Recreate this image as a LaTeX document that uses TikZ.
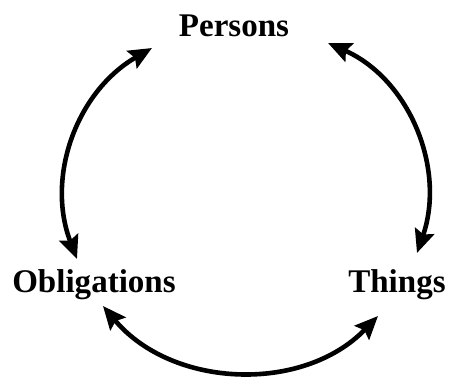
\documentclass[tikz,border=0pt]{standalone}
\usepackage{fontspec}
\setmainfont{Liberation Serif}
\usetikzlibrary{arrows.meta}

\tikzset{
  label/.style={font=\fontsize{23.5}{26}\selectfont\bfseries, anchor=base, inner sep=0pt},
  arr/.style={line width=0.115cm, {Stealth[length=0.58cm,width=0.5cm,inset=0.09cm]}-{Stealth[length=0.58cm,width=0.5cm,inset=0.09cm]}}
}

\begin{document}
\begin{tikzpicture}[x=0.025cm,y=-0.025cm]
\useasboundingbox (0,0) rectangle (449,377);

\node[label] (per) at (234,36) {Persons};
\node[label] (obl) at (94,292) {Obligations};
\node[label] (thi) at (397,292) {Things};

% arrow ends
\coordinate (per-l) at (152,48);
\coordinate (per-r) at (328,43);
\coordinate (obl-t) at (77,259);
\coordinate (obl-b) at (103,306);
\coordinate (thi-t) at (417,253);
\coordinate (thi-b) at (378,316);

% obligations - persons
\draw[arr] (obl-t) to[out=111,in=210] (per-l);
% persons - things
\draw[arr] (per-r) to[out=-24,in=71] (thi-t);
% obligations - things
\draw[arr] (obl-b) to[out=-50,in=226] (thi-b);
\end{tikzpicture}
\end{document}
